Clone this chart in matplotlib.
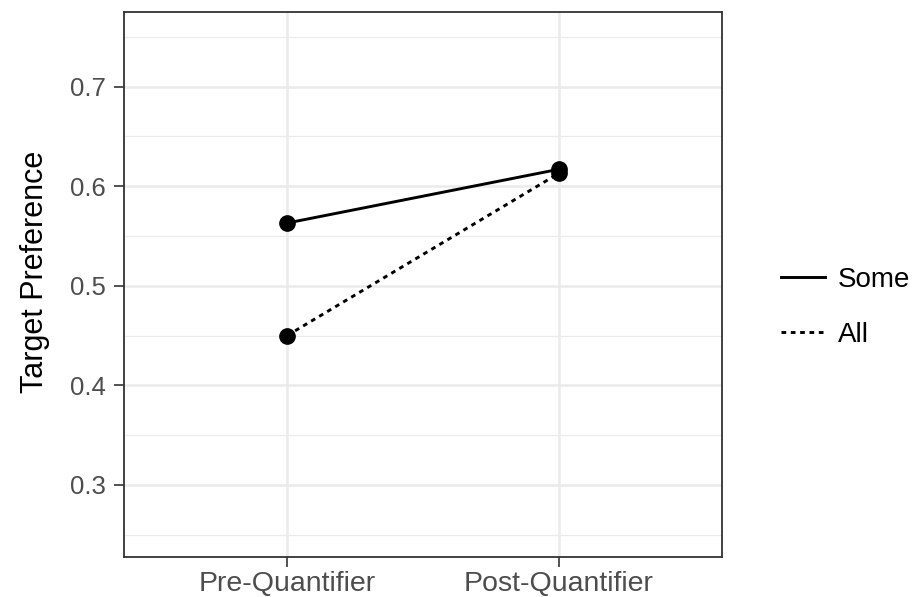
import matplotlib.pyplot as plt
from matplotlib.lines import Line2D

plt.rcParams['font.family'] = ['Liberation Sans', 'DejaVu Sans']

# Données
conditions = ['Pre-Quantifier', 'Post-Quantifier']
some_vals = [0.563, 0.617]
all_vals = [0.450, 0.613]
yticks = [0.3, 0.4, 0.5, 0.6, 0.7]
yminor = [0.25, 0.35, 0.45, 0.55, 0.65, 0.75]

fig = plt.figure(figsize=(9.14, 5.97), dpi=100)
ax = fig.add_axes([0.1357, 0.067, 0.6543, 0.913])

dash = (0, (1.6, 1.6))
x = list(range(1, len(conditions) + 1))
ax.plot(x, some_vals, color='black', lw=2.1, ls='-', marker='o', ms=11, zorder=3)
ax.plot(x, all_vals, color='black', lw=2.1, ls=dash, marker='o', ms=11, zorder=3)

ax.set_xlim(0.4, 2.6)
ax.set_ylim(0.2276, 0.775)
ax.set_xticks(x)
ax.set_xticklabels(conditions)
ax.set_yticks(yticks)
ax.set_yticklabels([str(v) for v in yticks])
ax.set_yticks(yminor, minor=True)

# Grille style ggplot theme_bw
ax.grid(True, which='major', color='#ebebeb', lw=1.8, zorder=0)
ax.grid(True, which='minor', axis='y', color='#ebebeb', lw=0.9, zorder=0)
ax.set_axisbelow(True)
ax.tick_params(which='minor', length=0)
ax.tick_params(which='major', length=7, width=1.2, color='#333333',
               labelcolor='#4d4d4d')
ax.tick_params(axis='y', labelsize=18.5, pad=6)
ax.tick_params(axis='x', labelsize=20.5, pad=3)
for s in ax.spines.values():
    s.set_color('#333333')
    s.set_linewidth(1.3)

ax.set_ylabel('Target Preference', fontsize=22, color='black')
ax.yaxis.set_label_coords(-0.124, 0.523)

handles = [Line2D([], [], color='black', lw=2.1, ls='-'),
           Line2D([], [], color='black', lw=2.1, ls=dash)]
fig.legend(handles, ['Some', 'All'], loc='center left',
           bbox_to_anchor=(0.827, 0.485), frameon=False, fontsize=20,
           handlelength=1.6, handletextpad=0.45, labelspacing=1.05)

plt.savefig('out.png', dpi=100)
